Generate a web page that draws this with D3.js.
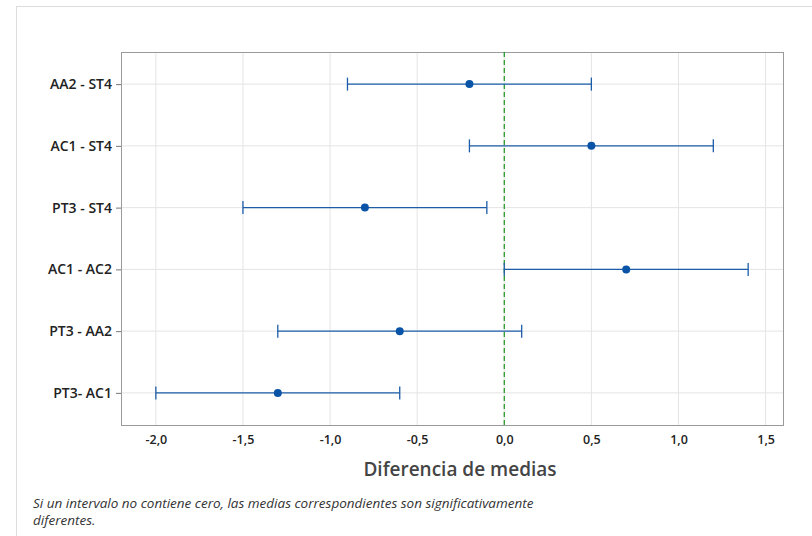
<!DOCTYPE html>
<html>
<head>
<meta charset="utf-8">
<script src="https://cdn.jsdelivr.net/npm/d3@7"></script>
<style>
  body { margin: 0; background: #fff; }
  text { font-family: "Open Sans", "Noto Sans", sans-serif; }
</style>
</head>
<body>
<div id="chart"></div>
<script>
// Pairwise comparisons, top to bottom
const pairs = ['AA2 - ST4', 'AC1 - ST4', 'PT3 - ST4', 'AC1 - AC2', 'PT3 - AA2', 'PT3- AC1'];
const lower = [-0.90, -0.20, -1.50, 0.00, -1.30, -2.00];
const means = [-0.20, 0.50, -0.80, 0.70, -0.60, -1.30];
const upper = [0.50, 1.20, -0.10, 1.40, 0.10, -0.60];
const xTicks = [-2.0, -1.5, -1.0, -0.5, 0.0, 0.5, 1.0, 1.5];

const data = pairs.map((p, i) => ({ pair: p, lo: lower[i], mean: means[i], hi: upper[i] }));

const width = 812, height = 536;
const margin = { top: 52, right: 29, bottom: 111, left: 121 };
const innerW = width - margin.left - margin.right;
const innerH = height - margin.top - margin.bottom;

const svg = d3.select('#chart').append('svg')
    .attr('width', width)
    .attr('height', height);

// outer frame
svg.append('rect')
    .attr('x', 16.5).attr('y', 6.5)
    .attr('width', width).attr('height', height)
    .attr('fill', 'none')
    .attr('stroke', '#dcdcdc');

const chart = svg.append('g')
    .attr('transform', `translate(${margin.left},${margin.top})`);

const x = d3.scaleLinear()
    .domain([-2.2, 1.6])
    .range([0, innerW]);

const y = d3.scalePoint()
    .domain(pairs)
    .range([0, innerH])
    .padding(0.52);

// gridlines
chart.append('g').selectAll('line')
    .data(xTicks)
    .join('line')
    .attr('x1', d => x(d)).attr('x2', d => x(d))
    .attr('y1', 0).attr('y2', innerH)
    .attr('stroke', '#e4e4e4');

chart.append('g').selectAll('line')
    .data(pairs)
    .join('line')
    .attr('x1', 0).attr('x2', innerW)
    .attr('y1', d => y(d)).attr('y2', d => y(d))
    .attr('stroke', '#e4e4e4');

// plot border
chart.append('rect')
    .attr('x', 0.5).attr('y', 0.5)
    .attr('width', innerW).attr('height', innerH)
    .attr('fill', 'none')
    .attr('stroke', '#9a9a9a');

// axes
const xAxis = d3.axisBottom(x)
    .tickValues(xTicks)
    .tickSize(0)
    .tickPadding(10)
    .tickFormat(d => d3.format('.1f')(d).replace('.', ',').replace('−', '-'));

const xAxisG = chart.append('g')
    .attr('transform', `translate(0,${innerH})`)
    .call(xAxis);
xAxisG.select('.domain').remove();
xAxisG.selectAll('text')
    .attr('fill', '#222')
    .style('font-size', '12.5px')
    .style('font-weight', '600');

const yAxis = d3.axisLeft(y)
    .tickSize(5)
    .tickPadding(4);

const yAxisG = chart.append('g').call(yAxis);
yAxisG.select('.domain').remove();
yAxisG.selectAll('line').attr('stroke', '#777');
yAxisG.selectAll('text')
    .attr('fill', '#222')
    .style('font-size', '14px')
    .style('font-weight', '600');

// zero reference line
chart.append('line')
    .attr('x1', x(0)).attr('x2', x(0))
    .attr('y1', 0).attr('y2', innerH)
    .attr('stroke', '#17961e')
    .attr('stroke-width', 1.2)
    .attr('stroke-dasharray', '5,3');

// intervals
const color = '#1c5ca8';
const cap = 6.5;
const rows = chart.append('g').selectAll('g')
    .data(data)
    .join('g');

rows.append('line')
    .attr('x1', d => x(d.lo)).attr('x2', d => x(d.hi))
    .attr('y1', d => y(d.pair)).attr('y2', d => y(d.pair))
    .attr('stroke', color).attr('stroke-width', 1.3);

rows.append('line')
    .attr('x1', d => x(d.lo)).attr('x2', d => x(d.lo))
    .attr('y1', d => y(d.pair) - cap).attr('y2', d => y(d.pair) + cap)
    .attr('stroke', color).attr('stroke-width', 1.3);

rows.append('line')
    .attr('x1', d => x(d.hi)).attr('x2', d => x(d.hi))
    .attr('y1', d => y(d.pair) - cap).attr('y2', d => y(d.pair) + cap)
    .attr('stroke', color).attr('stroke-width', 1.3);

rows.append('circle')
    .attr('cx', d => x(d.mean))
    .attr('cy', d => y(d.pair))
    .attr('r', 4)
    .attr('fill', '#0a54a8');

// axis title
svg.append('text')
    .attr('x', 460)
    .attr('y', 476)
    .attr('text-anchor', 'middle')
    .attr('fill', '#444')
    .style('font-size', '19px')
    .style('font-weight', '600')
    .text('Diferencia de medias');

// footnote
const note = svg.append('text')
    .attr('x', 33)
    .attr('y', 508)
    .attr('fill', '#333')
    .style('font-size', '13.5px')
    .style('font-style', 'italic');
note.append('tspan').attr('x', 33).text('Si un intervalo no contiene cero, las medias correspondientes son significativamente');
note.append('tspan').attr('x', 33).attr('dy', 17).text('diferentes.');
</script>
</body>
</html>
